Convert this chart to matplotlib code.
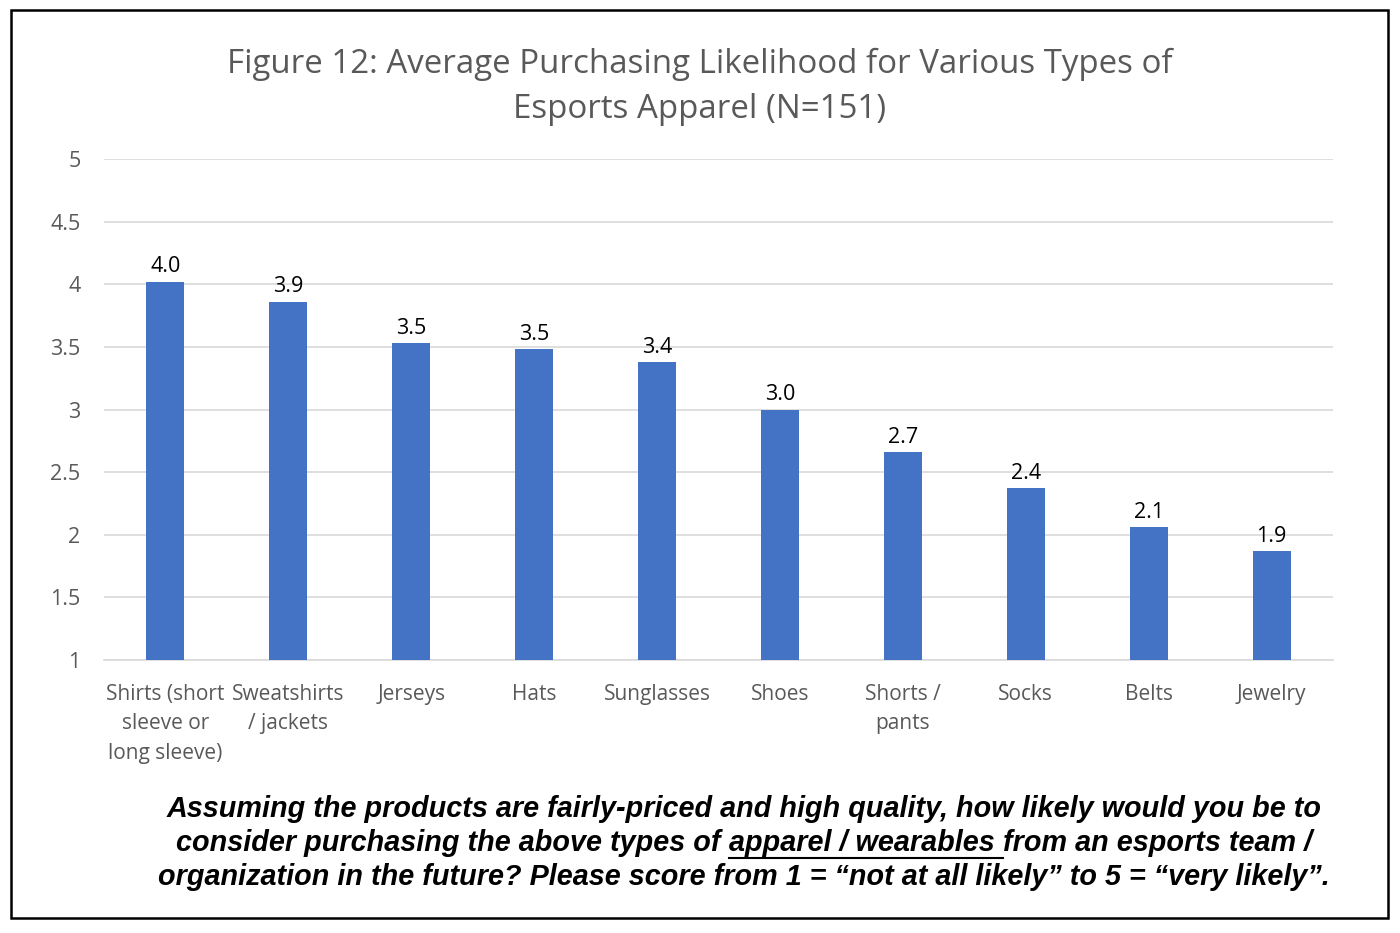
import matplotlib
matplotlib.use("Agg")
import matplotlib.pyplot as plt
from matplotlib import font_manager
from matplotlib.patches import Rectangle
from matplotlib.lines import Line2D

## data
categories = ["Shirts (short\nsleeve or\nlong sleeve)", "Sweatshirts\n/ jackets", "Jerseys", "Hats",
              "Sunglasses", "Shoes", "Shorts /\npants", "Socks", "Belts", "Jewelry"]
scores = [4.02, 3.86, 3.53, 3.48, 3.38, 3.00, 2.66, 2.37, 2.06, 1.87]
yticks = [1, 1.5, 2, 2.5, 3, 3.5, 4, 4.5, 5]
yticklabels = ["1", "1.5", "2", "2.5", "3", "3.5", "4", "4.5", "5"]

title = "Figure 12: Average Purchasing Likelihood for Various Types of\nEsports Apparel (N=151)"
caption_l1 = "Assuming the products are fairly-priced and high quality, how likely would you be to"
caption_l2 = ["consider purchasing the above types of ", "apparel / wearables ", "from an esports team /"]
caption_l3 = "organization in the future? Please score from 1 = \u201cnot at all likely\u201d to 5 = \u201cvery likely\u201d."

names = set(f.name for f in font_manager.fontManager.ttflist)
capfont = "Liberation Sans Narrow" if "Liberation Sans Narrow" in names else "Liberation Sans"
mainfont = "Open Sans"

W, H = 1400, 933
fig = plt.figure(figsize=(14, 9.33), dpi=100)

# outer frame
fig.add_artist(Rectangle((11/W, 1-918/H), (1388-11)/W, (918-10)/H, transform=fig.transFigure,
                         fill=False, edgecolor="black", linewidth=1.8))

ax = fig.add_axes([104/W, 1-660/H, (1333-104)/W, (660-159)/H])
x = range(len(categories))
bars = ax.bar(x, [s - 1 for s in scores], bottom=1, width=0.31, color="#4472c4", zorder=3)
for xi, s in zip(x, scores):
    ax.text(xi, s + 0.035, "%.1f" % s, ha="center", va="bottom", fontsize=15.5,
            family=mainfont, color="black")

ax.set_xlim(-0.5, 9.5)
ax.set_ylim(1, 5)
ax.set_yticks(yticks)
ax.set_yticklabels(yticklabels, family=mainfont, fontsize=15.5, color="#595959")
ax.set_xticks(list(x))
ax.set_xticklabels(categories, family=mainfont, fontsize=15, color="#595959", linespacing=1.55)
ax.tick_params(axis="both", length=0)
ax.tick_params(axis="y", pad=17)
ax.tick_params(axis="x", pad=17)
ax.grid(axis="y", color="#d9d9d9", linewidth=1.2, zorder=0)
for sp in ["top", "right", "left"]:
    ax.spines[sp].set_visible(False)
ax.spines["bottom"].set_color("#d9d9d9")
ax.spines["bottom"].set_linewidth(1.2)

fig.text(0.5, 1-87/H, title, ha="center", va="center", fontsize=23.8, family=mainfont,
         color="#595959", linespacing=1.5)

# caption
cap_kw = dict(fontsize=20.7, family=capfont, fontweight="bold", style="italic", color="black")
fig.text(744/W, 1-809/H, caption_l1, ha="center", va="center", **cap_kw)
fig.text(744/W, 1-877/H, caption_l3, ha="center", va="center", **cap_kw)

fig.canvas.draw()
rend = fig.canvas.get_renderer()
parts = []
for s in caption_l2:
    t = fig.text(0, 1-843/H, s, ha="left", va="center", **cap_kw)
    parts.append(t)
widths = [t.get_window_extent(rend).width for t in parts]
xpos = 744 - sum(widths)/2
for t, w in zip(parts, widths):
    t.set_x(xpos/W)
    xpos += w
fig.canvas.draw()
bb = parts[1].get_window_extent(rend)
uy = bb.y0 - 1
fig.add_artist(Line2D([bb.x0/W, bb.x1/W], [uy/H, uy/H], transform=fig.transFigure,
                      color="black", linewidth=1.5))

fig.savefig("out.png", dpi=100)
